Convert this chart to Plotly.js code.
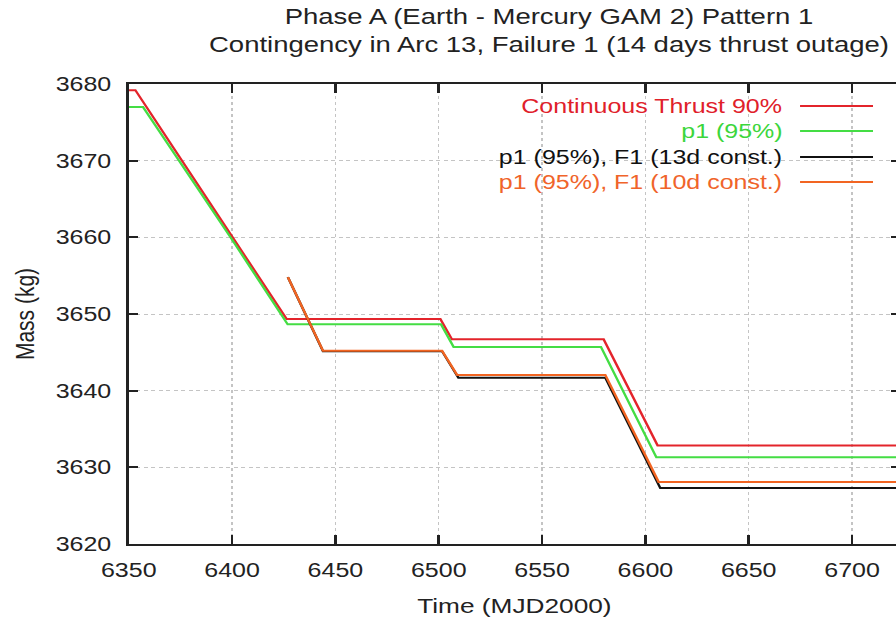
<!DOCTYPE html>
<html>
<head>
<meta charset="utf-8">
<script src="https://cdn.plot.ly/plotly-3.0.1.min.js"></script>
<style>
  html, body { margin: 0; padding: 0; overflow: hidden; background: #fff; width: 896px; height: 620px; }
  /* the figure is drawn narrow and widened, giving the broad lettering of the original plot */
  #chart { width: 722px; height: 620px; transform: scaleX(1.25); transform-origin: 0 0; }
</style>
</head>
<body>
<div id="chart"></div>
<script>
// Spacecraft mass history, MJD2000 days vs kg
const timeCont90 = [6350, 6353.2, 6400, 6426.4, 6500.8, 6506.4, 6579.8, 6605.9, 6725];
const massCont90 = [3679.2, 3679.2, 3660.1, 3649.35, 3649.35, 3646.7, 3646.7, 3632.85, 3632.85];

const timeP1 = [6350, 6356.9, 6400, 6426.9, 6501.1, 6507.2, 6578.5, 6605.3, 6725];
const massP1 = [3677.0, 3677.0, 3659.7, 3648.65, 3648.65, 3645.7, 3645.7, 3631.3, 3631.3];

const timeF1d13 = [6427.0, 6444.0, 6501.6, 6509.5, 6580.6, 6607.2, 6725];
const massF1d13 = [3654.8, 3645.15, 3645.15, 3641.7, 3641.7, 3627.3, 3627.3];

const timeF1d10 = [6427.0, 6444.0, 6501.6, 6508.9, 6580.6, 6606.4, 6725];
const massF1d10 = [3654.8, 3645.2, 3645.2, 3642.05, 3642.05, 3628.1, 3628.1];

const seriesNames = [
  'Continuous Thrust 90%',
  'p1 (95%)',
  'p1 (95%), F1 (13d const.)',
  'p1 (95%), F1 (10d const.)'
];
const seriesColors = ['#e3242b', '#44dd44', '#111111', '#f26522'];
const textColors = ['#e0202a', '#3cd63c', '#111111', '#f0642a'];

const xTicks = [6350, 6400, 6450, 6500, 6550, 6600, 6650, 6700];
const yTicks = [3620, 3630, 3640, 3650, 3660, 3670, 3680];

const font = 'Liberation Sans, Arial, Helvetica, sans-serif';

const xs = [timeCont90, timeP1, timeF1d13, timeF1d10];
const ys = [massCont90, massP1, massF1d13, massF1d10];

const traces = xs.map((x, i) => ({
  type: 'scatter',
  mode: 'lines',
  x: x,
  y: ys[i],
  name: seriesNames[i],
  line: { color: seriesColors[i], width: 2 },
  showlegend: false,
  hoverinfo: 'skip'
}));

// key placed in the upper right, text right-aligned with its sample line after it
const keyRows = [0.9522, 0.8978, 0.8413, 0.7870];
const shapes = [{
  type: 'rect', xref: 'paper', yref: 'paper',
  x0: 0.352, x1: 1, y0: 0.7587, y1: 1,
  fillcolor: '#ffffff', line: { width: 0 }, layer: 'below'
}];
const annotations = [];
keyRows.forEach((yy, i) => {
  shapes.push({
    type: 'line', xref: 'paper', yref: 'paper',
    x0: 0.8704, x1: 0.965, y0: yy, y1: yy,
    line: { color: seriesColors[i], width: 2 }
  });
  annotations.push({
    xref: 'paper', yref: 'paper', x: 0.851, y: yy,
    xanchor: 'right', yanchor: 'middle', showarrow: false,
    text: seriesNames[i],
    font: { family: font, size: 20, color: textColors[i] }
  });
});

const axisCommon = {
  showline: true, linecolor: '#222', linewidth: 2, mirror: 'ticks',
  ticks: 'inside', tickcolor: '#222', tickwidth: 2,
  showgrid: true, gridcolor: '#c4c4c4', gridwidth: 1, griddash: 'dot',
  zeroline: false, tickfont: { family: font, size: 20, color: '#222' }
};

const layout = {
  width: 722, height: 620,
  margin: { l: 103, r: 2, t: 84, b: 76 },
  paper_bgcolor: '#ffffff', plot_bgcolor: '#ffffff',
  title: {
    text: 'Phase A (Earth - Mercury GAM 2) Pattern 1<br>Contingency in Arc 13, Failure 1 (14 days thrust outage)',
    font: { family: font, size: 22, color: '#222' },
    xref: 'container', x: 0.6083, xanchor: 'center',
    yref: 'container', y: 0.962, yanchor: 'top'
  },
  xaxis: Object.assign({}, axisCommon, {
    range: [6350, 6723.2], tickvals: xTicks, ticklen: 9,
    ticklabelstandoff: 7,
    title: { text: 'Time (MJD2000)', font: { family: font, size: 21, color: '#222' }, standoff: 18 }
  }),
  yaxis: Object.assign({}, axisCommon, {
    range: [3620, 3680], tickvals: yTicks, ticklen: 7,
    ticklabelstandoff: 8,
    title: { text: 'Mass (kg)', font: { family: font, size: 21, color: '#222' }, standoff: 11 }
  }),
  shapes: shapes,
  annotations: annotations
};

Plotly.newPlot('chart', traces, layout, { staticPlot: true, displayModeBar: false });
</script>
</body>
</html>
